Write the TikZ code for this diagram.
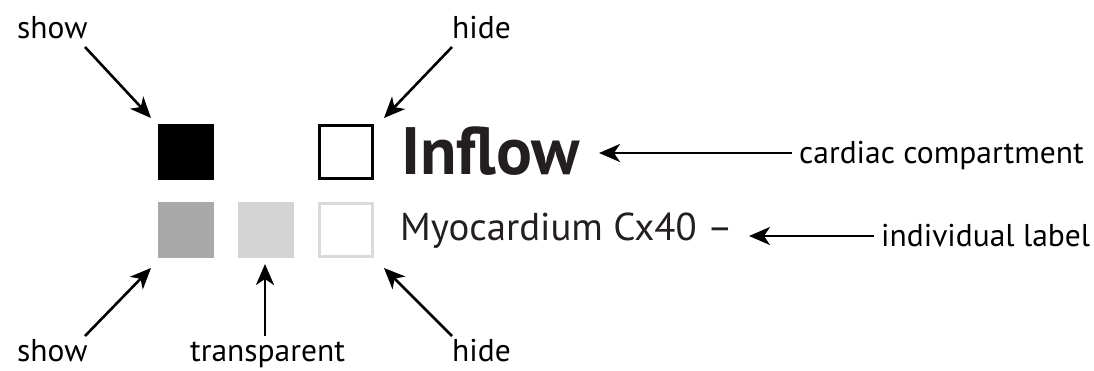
\documentclass[tikz,border=0pt]{standalone}
\usepackage{fontspec}
\setmainfont{PT Sans}
\usetikzlibrary{arrows.meta}
\definecolor{ink}{HTML}{231F20}
\definecolor{gA}{HTML}{A9A9A9}
\definecolor{gB}{HTML}{D4D4D4}
\definecolor{gC}{HTML}{DADADA}
\begin{document}
\begin{tikzpicture}[x=1pt,y=-1pt,
  lbl/.style={anchor=base west,inner sep=0pt,text=black,font=\fontsize{31.5}{38}\selectfont},
  sq/.style={minimum size=56pt,inner sep=0pt,outer sep=0pt},
  osq/.style={minimum size=53pt,inner sep=0pt,outer sep=0pt,line width=3pt,fill=white},
  arr/.style={line width=2.6pt,-{Stealth[length=21pt,width=18pt,inset=6pt]}}]
\useasboundingbox (0,0) rectangle (1094,370);
% squares
\node[sq,fill=black] (blk) at (186,152) {};
\node[osq,draw=black] (hid) at (346,152) {};
\node[sq,fill=gA] (gs) at (186,230) {};
\node[sq,fill=gB] (gt) at (266,230) {};
\node[osq,draw=gC] (gh) at (346,230) {};
% texts
\node[lbl] (show1) at (17,38) {show};
\node[lbl] (hide1) at (452,38) {hide};
\node[lbl] (show2) at (17,361) {show};
\node[lbl] (trans) at (190,361) {transparent};
\node[lbl] (hide2) at (452,361) {hide};
\node[anchor=base west,inner sep=0pt,text=ink,font=\fontsize{67}{80}\selectfont\bfseries] (inflow) at (401,174) {Inflow};
\node[anchor=base west,inner sep=0pt,text=ink,font=\fontsize{38.8}{44}\selectfont] (myo) at (400,240) {Myocardium Cx40 –};
\node[lbl] (card) at (799,163) {cardiac compartment};
\node[lbl] (indiv) at (881,246) {individual label};
% arrow ends
\coordinate (a1s) at (85,47);   \coordinate (a1e) at (151,118);
\coordinate (a2s) at (452,47);  \coordinate (a2e) at (384,118);
\coordinate (a3s) at (85,336);  \coordinate (a3e) at (151,268);
\coordinate (a4s) at (265,336); \coordinate (a4e) at (265,264);
\coordinate (a5s) at (452,336); \coordinate (a5e) at (384,268);
\draw[arr] (a1s) -- (a1e);
\draw[arr] (a2s) -- (a2e);
\draw[arr] (a3s) -- (a3e);
\draw[arr] (a4s) -- (a4e);
\draw[arr] (a5s) -- (a5e);
\draw[arr] (card.west |- 0,153) ++(-7,0) coordinate (c1) -- (599,153) coordinate (c2);
\draw[arr] (indiv.west |- 0,236) ++(-7,0) coordinate (c3) -- (749,236) coordinate (c4);
\end{tikzpicture}
\end{document}
